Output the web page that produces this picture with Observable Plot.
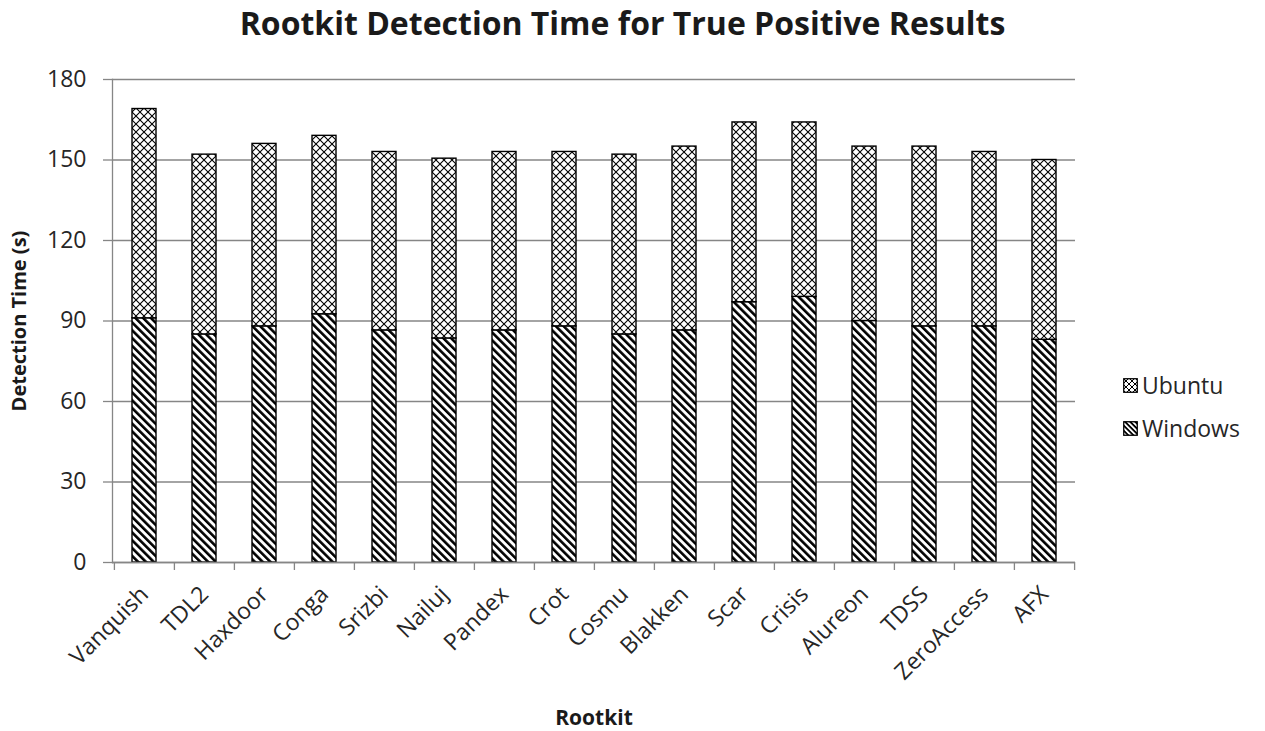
<!DOCTYPE html>
<html>
<head>
<meta charset="utf-8">
<script src="https://cdn.jsdelivr.net/npm/d3@7"></script>
<script src="https://cdn.jsdelivr.net/npm/@observablehq/plot@0.6"></script>
<style>
  body { margin: 0; background: #fff; font-family: "Open Sans", sans-serif; }
  #wrap { position: relative; width: 1265px; height: 731px; overflow: hidden; }
  #title { position: absolute; left: 0; top: 1px; width: 1245px; height: 44px; line-height: 44px; text-align: center; font-weight: bold; font-size: 32px; color: #1a1a1a; }
  #chart { position: absolute; left: 0; top: 60px; }
  #legend { position: absolute; left: 1123px; top: 370px; font-size: 23px; color: #262626; }
  .item { display: flex; align-items: center; height: 30px; margin-bottom: 13px; }
  .item svg { margin-right: 4px; }
</style>
</head>
<body>
<div id="wrap">
  <div id="title">Rootkit Detection Time for True Positive Results</div>
  <div id="chart"></div>
  <div id="legend"></div>
</div>
<script>
const rootkits = ["Vanquish","TDL2","Haxdoor","Conga","Srizbi","Nailuj","Pandex","Crot","Cosmu","Blakken","Scar","Crisis","Alureon","TDSS","ZeroAccess","AFX"];
const windows = [91, 85, 88, 92.5, 86.5, 83.5, 86.5, 88, 85, 86.5, 97, 99, 90, 88, 88, 83];
const ubuntu  = [78, 67, 68, 66.5, 66.5, 67, 66.5, 65, 67, 68.5, 67, 65, 65, 67, 65, 67];
const yTicks = [0, 30, 60, 90, 120, 150, 180];
const seriesNames = ["Ubuntu", "Windows"];

const rows = rootkits.map((name, i) => ({name, windows: windows[i], ubuntu: ubuntu[i]}));

const W = 1265, H = 671;
const mL = 112, mR = 190, mT = 19, mB = 169;
const step = (W - mL - mR) / rootkits.length;
const grid = "#868686";
const txt = "#262626";

const chart = Plot.plot({
  width: W, height: H,
  marginLeft: mL, marginRight: mR, marginTop: mT, marginBottom: mB,
  style: {fontFamily: "'Open Sans', sans-serif", fontSize: "23px", color: txt, background: "#fff"},
  x: {domain: rootkits, paddingInner: 0.6, paddingOuter: 0.3, label: null},
  y: {domain: [0, 180], label: null},
  marks: [
    Plot.gridY(yTicks, {stroke: grid, strokeOpacity: 1, strokeWidth: 1.3}),
    Plot.axisY(yTicks, {tickSize: 9, tickPadding: 17, stroke: grid, strokeWidth: 1.3, fontSize: 23, fill: txt, label: null}),
    Plot.frame({anchor: "left", stroke: grid, strokeWidth: 1.3}),
    Plot.barY(rows, {x: "name", y1: 0, y2: "windows", fill: "url(#pWin)", stroke: "#000", strokeWidth: 1.4}),
    Plot.barY(rows, {x: "name", y1: "windows", y2: d => d.windows + d.ubuntu, fill: "url(#pUbu)", stroke: "#000", strokeWidth: 1.4}),
    Plot.ruleY([0], {stroke: grid, strokeWidth: 1.3}),
    Plot.axisX({tickSize: 8, text: null, stroke: grid, strokeWidth: 1.3, dx: -step / 2, label: null}),
    Plot.axisX([rootkits[rootkits.length - 1]], {tickSize: 8, text: null, stroke: grid, strokeWidth: 1.3, dx: step / 2, label: null}),
    Plot.axisX({tickSize: 0, tickPadding: 28, tickRotate: -45, fontSize: 23, fill: txt, label: null}),
    Plot.text(["Rootkit"], {frameAnchor: "bottom", dy: 162, text: d => d, fontWeight: "bold", fontSize: 21, fill: "#1a1a1a"}),
    Plot.text(["Detection Time (s)"], {frameAnchor: "left", textAnchor: "middle", dx: -93, rotate: -90, text: d => d, fontWeight: "bold", fontSize: 20, fill: "#1a1a1a"})
  ]
});

const defs = `
<defs>
  <pattern id="pWin" width="5.5" height="5.5" patternUnits="userSpaceOnUse" patternTransform="rotate(-45)">
    <rect width="5.5" height="5.5" fill="#fff"></rect>
    <rect x="0" y="0" width="2.6" height="5.5" fill="#000"></rect>
  </pattern>
  <pattern id="pUbu" width="8" height="8" patternUnits="userSpaceOnUse">
    <rect width="8" height="8" fill="#fff"></rect>
    <path d="M0,0L8,8M8,0L0,8" stroke="#000" stroke-width="1.1"></path>
  </pattern>
</defs>`;
chart.insertAdjacentHTML("afterbegin", defs);
document.getElementById("chart").appendChild(chart);

const legend = document.getElementById("legend");
seriesNames.forEach(s => {
  const div = document.createElement("div");
  div.className = "item";
  const isWin = s === "Windows";
  div.innerHTML = `<svg width="15" height="15"><defs>
    <pattern id="l${s}" width="${isWin ? 3.6 : 6}" height="${isWin ? 3.6 : 6}" patternUnits="userSpaceOnUse" ${isWin ? 'patternTransform="rotate(-45)"' : ''}>
      <rect width="8" height="8" fill="#fff"></rect>
      ${isWin ? '<rect width="1.8" height="3.6" fill="#000"></rect>' : '<path d="M0,0L6,6M6,0L0,6" stroke="#000" stroke-width="1"></path>'}
    </pattern></defs>
    <rect x="0.75" y="0.75" width="13.5" height="13.5" fill="url(#l${s})" stroke="#000" stroke-width="1.3"></rect></svg><span>${s}</span>`;
  legend.appendChild(div);
});
</script>
</body>
</html>
